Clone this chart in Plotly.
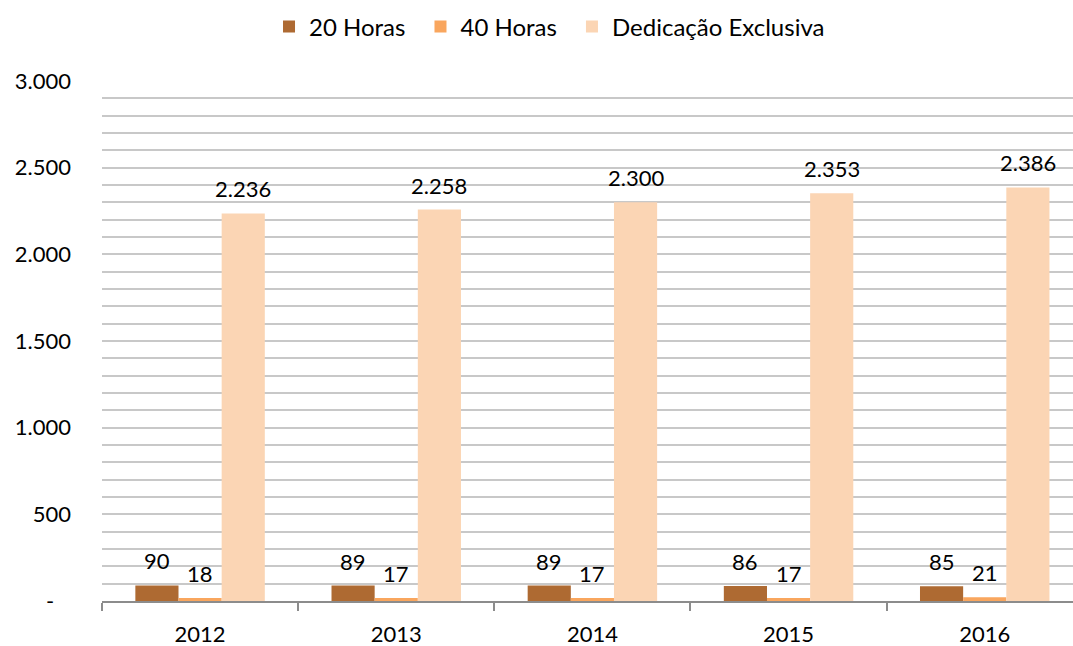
import plotly.graph_objects as go

# Categories and series
anos = ["2012", "2013", "2014", "2015", "2016"]
horas_20 = [90, 89, 89, 86, 85]
horas_40 = [18, 17, 17, 17, 21]
dedicacao_exclusiva = [2236, 2258, 2300, 2353, 2386]

serie_nomes = ["20 Horas", "40 Horas", "Dedicação Exclusiva"]
serie_cores = ["#AE6A32", "#F9A65E", "#FBD5B4"]

y_ticks = [0, 500, 1000, 1500, 2000, 2500, 3000]
y_ticktext = ["-\u00a0\u00a0\u00a0", "500", "1.000", "1.500", "2.000", "2.500", "3.000"]

FONT = "Lato, 'Open Sans', sans-serif"
BARGAP = 0.34

series = [horas_20, horas_40, dedicacao_exclusiva]
# one legend box per series, placed side by side above the plot
legendas = ["legend", "legend2", "legend3"]
legenda_x = [0.172, 0.328, 0.484]

fig = go.Figure()
for nome, valores, cor, leg in zip(serie_nomes, series, serie_cores, legendas):
    fig.add_trace(go.Bar(
        name=nome,
        x=anos,
        y=valores,
        marker=dict(color=cor, line=dict(width=0)),
        legend=leg,
    ))

# Value labels above each bar (bar width in category units = (1 - gap) / n)
largura = (1 - BARGAP) / len(series)
for k, valores in enumerate(series):
    desloc = (k - (len(series) - 1) / 2) * largura
    for i, v in enumerate(valores):
        fig.add_annotation(
            x=i + desloc, y=v, xref="x", yref="y",
            text=f"{v:,}".replace(",", "."),
            showarrow=False,
            yanchor="bottom",
            yshift=9,
            font=dict(size=22, color="#000000", family=FONT),
        )

legend_style = dict(
    orientation="h",
    xanchor="left",
    y=1.104, yanchor="middle",
    font=dict(size=24),
    itemwidth=30,
    bgcolor="rgba(0,0,0,0)",
)

fig.update_layout(
    width=1073,
    height=646,
    separators=",.",
    barmode="group",
    bargap=BARGAP,
    bargroupgap=0,
    plot_bgcolor="white",
    paper_bgcolor="white",
    font=dict(family=FONT, size=22, color="#000000"),
    margin=dict(l=102, r=0, t=81, b=45, autoexpand=False),
    showlegend=True,
    legend=dict(x=legenda_x[0], **legend_style),
    legend2=dict(x=legenda_x[1], **legend_style),
    legend3=dict(x=legenda_x[2], **legend_style),
)

fig.update_xaxes(
    type="category",
    range=[-0.5, 4.45],
    automargin=False,
    showline=True,
    linecolor="#8C8C8C",
    linewidth=1.5,
    ticks="outside",
    tickson="boundaries",
    ticklen=8,
    tickcolor="#8C8C8C",
    tickwidth=1.5,
    showgrid=False,
    ticklabelstandoff=13,
    tickfont=dict(size=22),
)

fig.update_yaxes(
    range=[0, 3000],
    automargin=False,
    tickvals=y_ticks,
    ticktext=y_ticktext,
    showgrid=True,
    gridcolor="#C8C8C8",
    gridwidth=1.5,
    zeroline=False,
    ticks="",
    ticklabelstandoff=30,
    tickfont=dict(size=22),
    minor=dict(dtick=100, showgrid=True, gridcolor="#C8C8C8", gridwidth=1.5),
)

fig.write_html("out.html")
